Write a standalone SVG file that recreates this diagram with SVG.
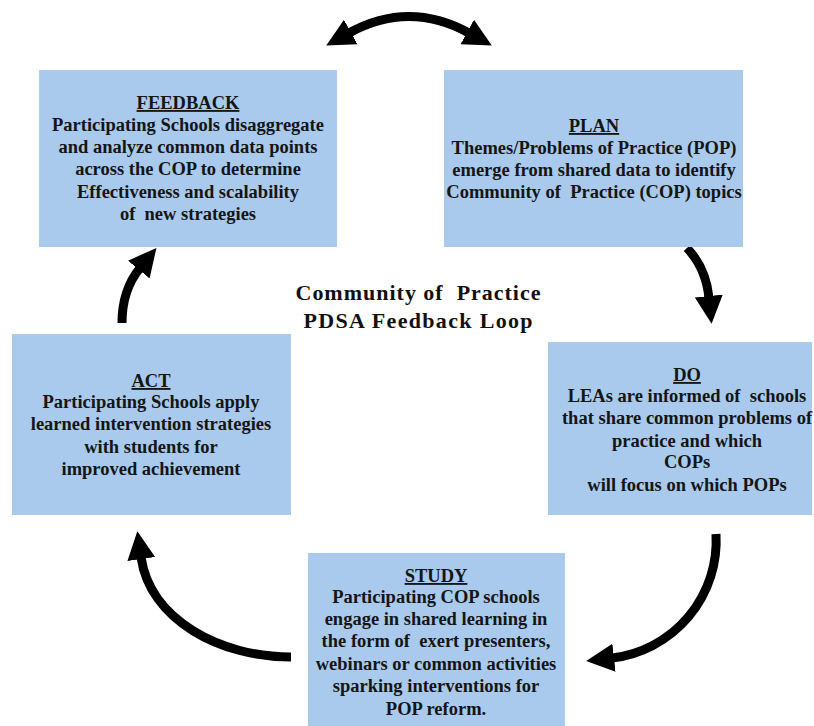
<svg xmlns="http://www.w3.org/2000/svg" width="814" height="726" viewBox="0 0 814 726">
<style>
.box{fill:#A9CAEC;}
.t{font-family:"Liberation Serif","Times New Roman",serif;font-weight:bold;font-size:18.5px;fill:#151515;text-anchor:middle;white-space:pre;}
.h{text-decoration:underline;}
.title{font-family:"Liberation Serif","Times New Roman",serif;font-weight:bold;font-size:22px;fill:#111;text-anchor:middle;white-space:pre;}
.arr{fill:none;stroke:#000;stroke-width:9;}
</style>
<defs>
<marker id="head" markerUnits="userSpaceOnUse" markerWidth="30" markerHeight="30" viewBox="0 0 30 30" refX="2" refY="15" orient="auto-start-reverse">
<path d="M0,1 L28,15 L0,29 z" fill="#000"/>
</marker>
</defs>
<rect width="814" height="726" fill="#fff"/>

<g id="connectors">
<path class="arr" d="M349,33 Q409,0 469,33" marker-start="url(#head)" marker-end="url(#head)"/>
<path class="arr" d="M687,248 Q706,268 709,298" marker-end="url(#head)"/>
<path class="arr" d="M716,534 A118,118 0 0 1 612,658" marker-end="url(#head)"/>
<path class="arr" d="M291,657 C220,657 150,620 141,557" marker-end="url(#head)"/>
<path class="arr" d="M122,323 Q122,290 140,268" marker-end="url(#head)"/>
</g>

<g id="feedback">
<rect class="box" x="39" y="70" width="298" height="177"/>
<text class="t h" x="188" y="109">FEEDBACK</text>
<text class="t" x="188" y="131">Participating Schools disaggregate</text>
<text class="t" x="188" y="153">and analyze common data points</text>
<text class="t" x="188" y="175">across the COP to determine</text>
<text class="t" x="188" y="198">Effectiveness and scalability</text>
<text class="t" x="188" y="220">of  new strategies</text>
</g>

<g id="plan">
<rect class="box" x="444" y="70" width="299" height="177"/>
<text class="t h" x="594" y="132">PLAN</text>
<text class="t" x="594" y="154">Themes/Problems of Practice (POP)</text>
<text class="t" x="594" y="176">emerge from shared data to identify</text>
<text class="t" x="594" y="198">Community of  Practice (COP) topics</text>
</g>

<g id="title">
<text class="title" x="418" y="300" textLength="245" lengthAdjust="spacing">Community of  Practice</text>
<text class="title" x="418" y="328" textLength="229" lengthAdjust="spacing">PDSA Feedback Loop</text>
</g>

<g id="act">
<rect class="box" x="12" y="334" width="279" height="181"/>
<text class="t h" x="151" y="387">ACT</text>
<text class="t" x="151" y="408">Participating Schools apply</text>
<text class="t" x="151" y="430">learned intervention strategies</text>
<text class="t" x="151" y="453">with students for</text>
<text class="t" x="151" y="475">improved achievement</text>
</g>

<g id="do">
<rect class="box" x="548" y="342" width="264" height="173"/>
<text class="t h" x="687" y="381">DO</text>
<text class="t" x="687" y="402">LEAs are informed of  schools</text>
<text class="t" x="687" y="424">that share common problems of</text>
<text class="t" x="687" y="447">practice and which</text>
<text class="t" x="687" y="468">COPs</text>
<text class="t" x="687" y="491">will focus on which POPs</text>
</g>

<g id="study">
<rect class="box" x="308" y="553" width="257" height="173"/>
<text class="t h" x="436" y="582">STUDY</text>
<text class="t" x="436" y="603">Participating COP schools</text>
<text class="t" x="436" y="625">engage in shared learning in</text>
<text class="t" x="436" y="647">the form of  exert presenters,</text>
<text class="t" x="436" y="670">webinars or common activities</text>
<text class="t" x="436" y="692">sparking interventions for</text>
<text class="t" x="436" y="715">POP reform.</text>
</g>
</svg>
